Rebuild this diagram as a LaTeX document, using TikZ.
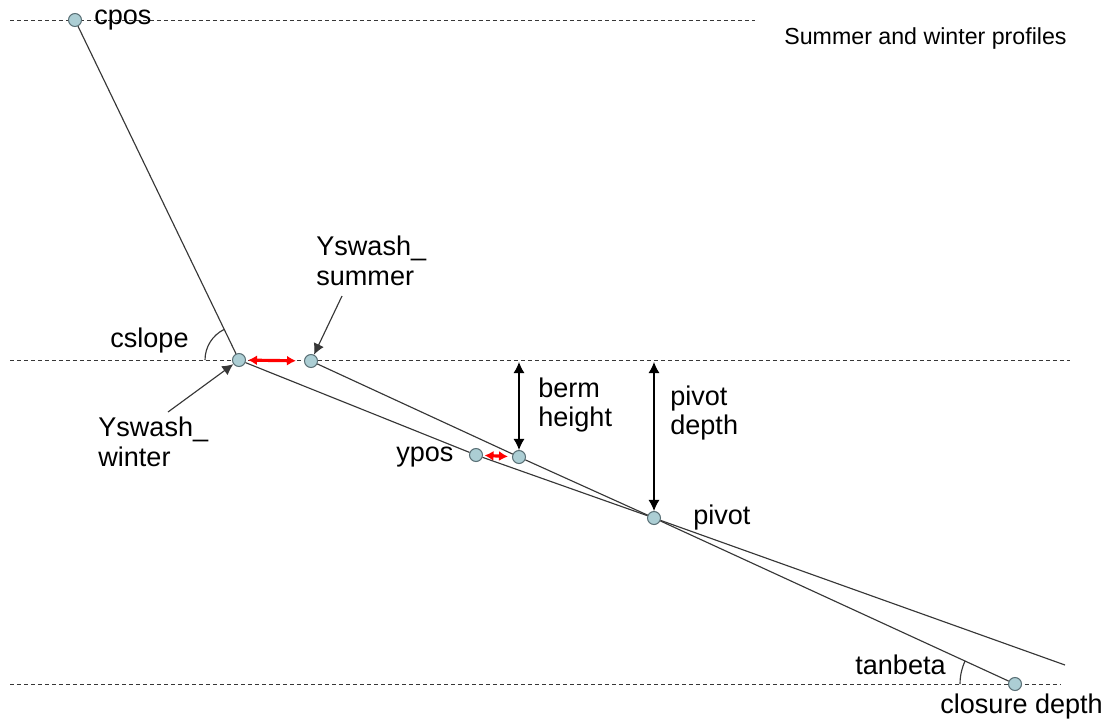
\documentclass[tikz,border=0pt]{standalone}
\usepackage{fontspec}
\setmainfont{Liberation Sans}
\usetikzlibrary{arrows.meta, calc, positioning}
\definecolor{dotFill}{RGB}{172,206,212}
\definecolor{dotRim}{RGB}{90,112,118}
\definecolor{lineGray}{RGB}{55,55,55}
\tikzset{
    profDot/.style={circle, draw=dotRim, fill=dotFill, inner sep=0pt, minimum size=2.6mm, line width=0.6pt},
    profLine/.style={draw=lineGray, line width=0.65pt},
    levelLine/.style={draw=lineGray, line width=0.5pt, dash pattern=on 0.08cm off 0.06cm},
    pointer/.style={-{Latex[length=2.2mm, width=2.2mm]}, line width=0.65pt, draw=lineGray},
    depthEdge/.style={{Latex[length=2.2mm, width=2.2mm]}-{Latex[length=2.2mm, width=2.2mm]}, line width=0.65pt},
    shiftEdge/.style={{Latex[length=1.8mm, width=2mm]}-{Latex[length=1.8mm, width=2mm]}, red, line width=1.8pt},
    txt/.style={inner sep=0pt, align=left, anchor=west},
}
\newcommand{\drawShift}[4]{
    % red arrow between winter and summer points
    \draw[shiftEdge, shorten <=#3, shorten >=#4] (#1) -- (#2);
}

\begin{document}
\begin{tikzpicture}[x=0.02cm, y=-0.02cm, font=\fontsize{15.4}{17}\selectfont]
    \useasboundingbox (0,0) rectangle (1115,725);

    % levels
    \coordinate (topL) at (10,20);
    \coordinate (topR) at (755,20);
    \coordinate (midL) at (10,360);
    \coordinate (midR) at (1070,360);
    \coordinate (botL) at (10,684);
    \coordinate (botR) at (1060,684);
    \draw[levelLine] (topL) -- (topR);
    \draw[levelLine] (midL) -- (midR);
    \draw[levelLine] (botL) -- (botR);

    % points
    \node[profDot] (cpos) at (75,20) {};
    \node[profDot] (W) at (239,360) {};
    \node[profDot] (S) at (311,361) {};
    \node[profDot] (Y) at (476,455) {};
    \node[profDot] (B) at (519,457) {};
    \node[profDot] (P) at (654,518) {};
    \node[profDot] (C) at (1015,684) {};
    \coordinate (wEnd) at (1065,665);

    % profiles
    \draw[profLine] (cpos) -- (W);
    \draw[profLine] (W) -- (Y) -- (P) -- (wEnd);
    \draw[profLine] (S) -- (B) -- (P) -- (C);

    % angles
    \draw[profLine] ([shift={(180:0.68cm)}]W.center) arc[start angle=180, end angle=116, radius=0.68cm];
    \draw[profLine] ([shift={(180:1.1cm)}]C.center) arc[start angle=180, end angle=155, radius=1.1cm];

    % shifts
    \drawShift{W}{S}{0.04cm}{0.16cm}
    \drawShift{Y}{B}{0.03cm}{0.08cm}

    % depths
    \coordinate (bermTop) at (519,362);
    \coordinate (pivotTop) at (654,362);
    \draw[depthEdge] (bermTop) -- (B);
    \draw[depthEdge] (pivotTop) -- (P);

    % labels
    \node[txt] (lCpos) at (94,20) {cpos};
    \node[txt, font=\fontsize{13.2}{16}\selectfont] (lTitle) at (784,38) {Summer and winter profiles};
    \node[txt] (lCslope) at (110,340) {cslope};
    \node[txt] (lSummer) at (316,261) {Yswash\_\\summer};
    \node[txt] (lWinter) at (98,442) {Yswash\_\\winter};
    \node[txt] (lYpos) at (396,457) {ypos};
    \node[txt] (lBerm) at (538,405) {berm\\height};
    \node[txt] (lPivDepth) at (670,413) {pivot\\depth};
    \node[txt] (lPivot) at (693,517) {pivot};
    \node[txt] (lTan) at (855,665) {tanbeta};
    \node[txt] (lClosure) at (940,706) {closure depth};

    % pointers
    \coordinate (sumTail) at (342,296);
    \coordinate (winTail) at (168,412);
    \draw[pointer] (sumTail) -- (S);
    \draw[pointer] (winTail) -- (W);

\end{tikzpicture}
\end{document}
